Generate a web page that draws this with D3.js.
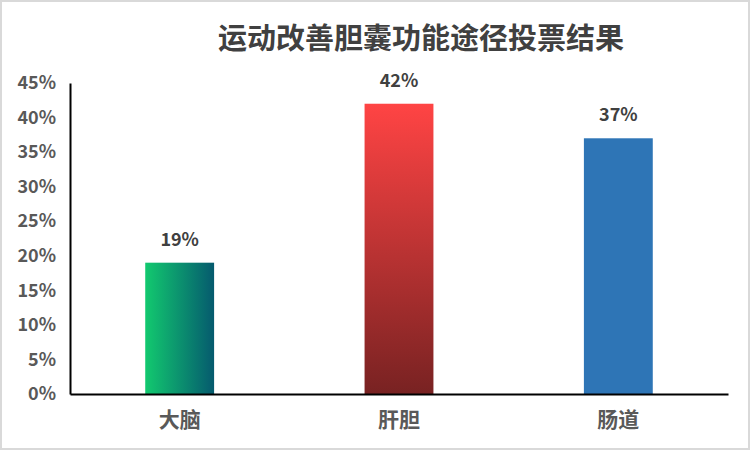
<!DOCTYPE html>
<html>
<head>
<meta charset="utf-8">
<script src="https://cdn.jsdelivr.net/npm/d3@7"></script>
<style>
  body { margin: 0; background: #fff; }
  svg { display: block; }
</style>
</head>
<body>
<div id="chart"></div>
<script>
// values
var categories = ["大脑", "肝胆", "肠道"];
var votes = [19, 42, 37];
var yTicks = [0, 5, 10, 15, 20, 25, 30, 35, 40, 45];
var chartTitle = "运动改善胆囊功能途径投票结果";

var width = 752, height = 452;
var fontCN = "'Microsoft YaHei','Noto Sans CJK SC','Noto Sans',sans-serif";

var svg = d3.select("#chart").append("svg")
  .attr("width", width)
  .attr("height", height);

// light frame round the whole chart
svg.append("rect")
  .attr("x", 1).attr("y", 1)
  .attr("width", width - 4).attr("height", height - 4)
  .attr("fill", "#fff")
  .attr("stroke", "#d9d9d9")
  .attr("stroke-width", 2);

// gradients for the first two bars
var defs = svg.append("defs");
var g1 = defs.append("linearGradient").attr("id", "gradGreen")
  .attr("x1", "0%").attr("y1", "0%").attr("x2", "100%").attr("y2", "0%");
g1.append("stop").attr("offset", "0%").attr("stop-color", "#12c96f");
g1.append("stop").attr("offset", "100%").attr("stop-color", "#055a6e");

var g2 = defs.append("linearGradient").attr("id", "gradRed")
  .attr("x1", "0%").attr("y1", "0%").attr("x2", "0%").attr("y2", "100%");
g2.append("stop").attr("offset", "0%").attr("stop-color", "#ff4444");
g2.append("stop").attr("offset", "100%").attr("stop-color", "#782222");

var fills = ["url(#gradGreen)", "url(#gradRed)", "#2e75b6"];

var x = d3.scaleBand()
  .domain(categories)
  .range([70, 728])
  .paddingInner(0.686)
  .paddingOuter(0.343);

var y = d3.scaleLinear()
  .domain([0, 45])
  .range([394, 83]);

// title
svg.append("text")
  .attr("x", 421).attr("y", 49)
  .attr("text-anchor", "middle")
  .style("font-family", fontCN)
  .style("font-size", "29px")
  .style("font-weight", "bold")
  .attr("fill", "#404040")
  .text(chartTitle);

// bars
svg.selectAll("rect.bar")
  .data(votes)
  .enter().append("rect")
  .attr("class", "bar")
  .attr("x", function(d, i) { return x(categories[i]); })
  .attr("y", function(d) { return y(d); })
  .attr("width", x.bandwidth())
  .attr("height", function(d) { return y(0) - y(d); })
  .attr("fill", function(d, i) { return fills[i]; });

// data labels
svg.selectAll("text.val")
  .data(votes)
  .enter().append("text")
  .attr("class", "val")
  .attr("x", function(d, i) { return x(categories[i]) + x.bandwidth() / 2; })
  .attr("y", function(d) { return y(d) - 17; })
  .attr("text-anchor", "middle")
  .style("font-family", fontCN)
  .style("font-size", "18px")
  .style("font-weight", "bold")
  .attr("fill", "#404040")
  .text(function(d) { return d + "%"; });

// y axis
var yAxis = svg.append("g")
  .attr("transform", "translate(70,0)")
  .call(d3.axisLeft(y).tickValues(yTicks).tickSize(0).tickPadding(14)
    .tickFormat(function(d) { return d + "%"; }));
yAxis.select(".domain").attr("stroke", "#000").attr("stroke-width", 2);
yAxis.selectAll("text")
  .style("font-family", fontCN)
  .style("font-size", "18px")
  .style("font-weight", "bold")
  .attr("fill", "#595959");

// x axis
var xAxis = svg.append("g")
  .attr("transform", "translate(0,394)")
  .call(d3.axisBottom(x).tickSize(0).tickPadding(18));
xAxis.select(".domain").attr("stroke", "#000").attr("stroke-width", 2);
xAxis.selectAll("text")
  .style("font-family", fontCN)
  .style("font-size", "21px")
  .style("font-weight", "bold")
  .attr("fill", "#595959");
</script>
</body>
</html>
